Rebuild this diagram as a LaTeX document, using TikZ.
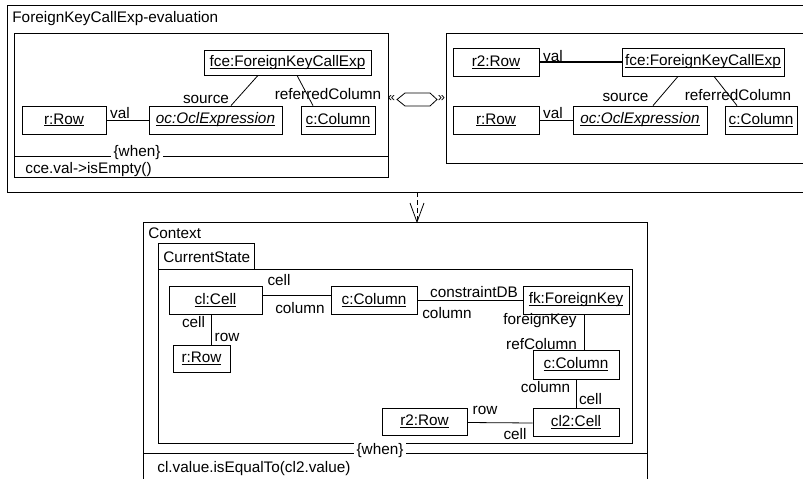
\documentclass[tikz,border=0pt]{standalone}
\usepackage{fontspec}
\setmainfont{Liberation Sans}
\usetikzlibrary{arrows.meta}
\newcommand\myul[1]{\setbox0\hbox{#1}\rlap{\rule[-2.2pt]{\wd0}{0.9pt}}\box0}
\begin{document}
\begin{tikzpicture}[x=1pt,y=-1pt, line width=0.8pt,
  every node/.style={font=\fontsize{15.3}{17}\selectfont},
  obj/.style={draw, rectangle, inner sep=0pt, minimum height=28pt},
  lbl/.style={inner sep=0pt},
  whenlbl/.style={fill=white, inner xsep=3pt, inner ysep=0pt},
  ttl/.style={inner sep=0pt, anchor=base west}]
\useasboundingbox (0,0) rectangle (803,479);
\clip (0,0) rectangle (803,479);
% outer frames
\draw (7,5) rectangle (830,192);
\node[ttl] (t1) at (12,22.5) {ForeignKeyCallExp-evaluation};
% left pattern
\draw (14,33) rectangle (388,177);
\draw (14,156) -- (388,156);
\node[whenlbl] (w1) at (137,152.5) {\{when\}};
\node[ttl] (c1) at (25,173) {cce.val->isEmpty()};
\node[obj, minimum width=167pt, minimum height=25pt] (lfce) at (287.5,62.5) {\myul{fce:ForeignKeyCallExp}};
\node[obj, minimum width=84pt] (lrow) at (64,120) {\myul{r:Row}};
\node[obj, minimum width=133pt] (loc) at (215.5,120) {\myul{\itshape oc:OclExpression}};
\node[obj, minimum width=74pt] (lcol) at (338,120) {\myul{c:Column}};
\draw (lrow.east) -- (loc.west);
\draw ([xshift=-29.5pt]lfce.south) -- ([xshift=15.5pt]loc.north);
\draw ([xshift=9.5pt]lfce.south) -- ([xshift=-25pt]lcol.north);
\node[lbl] at (120,113) {val};
\node[lbl] at (206,99) {source};
\node[lbl] at (328,94) {referredColumn};
% hexagon symbol
\draw (397,99.5) -- (405,93) -- (430,93) -- (437,99.5) -- (430,106) -- (405,106) -- cycle;
\node[lbl, font=\fontsize{13}{13}\selectfont] (gl) at (391.5,99) {«};
\node[lbl, font=\fontsize{13}{13}\selectfont] (gr) at (441.5,99) {»};
% right pattern
\draw (446,33) rectangle (830,163);
\node[obj, minimum width=86pt] (r2row) at (496,62) {\myul{r2:Row}};
\node[obj, minimum width=162pt] (rfce) at (703,62) {\myul{fce:ForeignKeyCallExp}};
\node[obj, minimum width=86pt] (rrow) at (496,120) {\myul{r:Row}};
\node[obj, minimum width=134pt] (roc) at (640,120) {\myul{\itshape oc:OclExpression}};
\node[obj, minimum width=72pt] (rcol) at (761,120) {\myul{c:Column}};
\draw[line width=2.8pt] (r2row.east) -- (rfce.west);
\draw (rrow.east) -- (roc.west);
\draw ([xshift=-25pt]rfce.south) -- ([xshift=13pt]roc.north);
\draw ([xshift=11pt]rfce.south) -- ([xshift=-24pt]rcol.north);
\node[lbl] at (553,56) {val};
\node[lbl] at (553,113) {val};
\node[lbl] at (625.5,97) {source};
\node[lbl] at (738,95) {referredColumn};
% dependency arrow
\coordinate (as) at (417,192);
\coordinate (ae) at (417,222);
\draw[dash pattern=on 5pt off 3pt] (as) -- (ae);
\draw (410,203) -- (ae) -- (424,203);
% context frame
\draw (143,222) -- (647,222) -- (647,490);
\draw (143,222) -- (143,490);
\node[ttl] (t2) at (148,238.5) {Context};
\draw (158,243) rectangle (254,269);
\node[ttl] (t3) at (163,262) {CurrentState};
\draw (158,269) rectangle (632,443);
\draw (143,453) -- (647,453);
\node[whenlbl] (w2) at (380,450.5) {\{when\}};
\node[ttl] (c2) at (157,472) {cl.value.isEqualTo(cl2.value)};
\node[obj, minimum width=93pt] (clcell) at (215.5,300) {\myul{cl:Cell}};
\node[obj, minimum width=86pt] (ccol) at (374,300) {\myul{c:Column}};
\node[obj, minimum width=106pt] (fk) at (576,300) {\myul{fk:ForeignKey}};
\node[obj, minimum width=86pt, minimum height=29pt] (ccol2) at (576,364.5) {\myul{c:Column}};
\node[obj, minimum width=86pt] (cl2) at (576,422) {\myul{cl2:Cell}};
\node[obj, minimum width=85pt, minimum height=27pt] (r2) at (424.5,421.5) {\myul{r2:Row}};
\node[obj, minimum width=57pt, minimum height=27pt] (rrow2) at (201.5,358.5) {\myul{r:Row}};
\draw ([yshift=5pt]clcell.east) -- ([yshift=5pt]ccol.west);
\draw (ccol.east) -- (fk.west);
\draw ([xshift=8pt]fk.south) -- ([xshift=8pt]ccol2.north);
\draw (ccol2.south) -- (cl2.north);
\draw ([yshift=-1pt]r2.east) -- ([yshift=-1pt]cl2.west);
\draw ([xshift=-4.5pt]clcell.south) -- ([xshift=-4.5pt]clcell.south |- rrow2.north);
\node[lbl] at (279,280) {cell};
\node[lbl] at (300,308) {column};
\node[lbl] at (474,292) {constraintDB};
\node[lbl] at (447,313) {column};
\node[lbl] at (540,321) {foreignKey};
\node[lbl] at (541.5,344) {refColumn};
\node[lbl] at (545.5,387) {column};
\node[lbl] at (590.5,399) {cell};
\node[lbl] at (485,410) {row};
\node[lbl] at (515,434) {cell};
\node[lbl] at (193.5,322) {cell};
\node[lbl] at (227,337) {row};
\end{tikzpicture}
\end{document}
